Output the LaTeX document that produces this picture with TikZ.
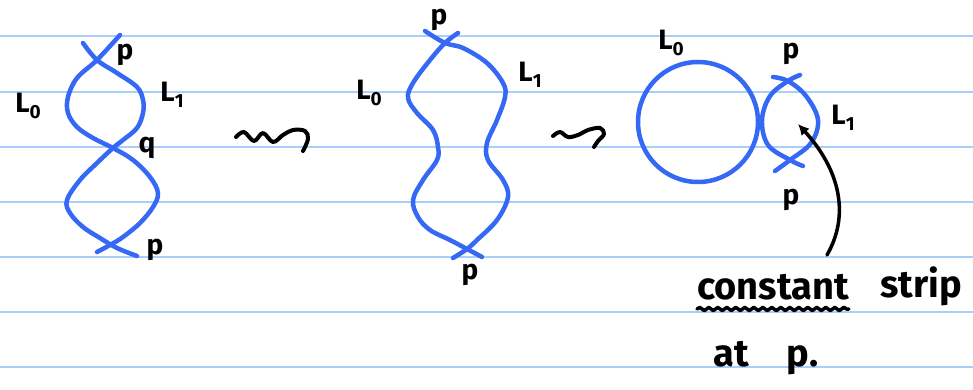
\documentclass[tikz,border=0pt]{standalone}
\usepackage{fontspec}
\setmainfont{Fira Sans}
\usetikzlibrary{arrows.meta,decorations.pathmorphing}
\definecolor{rulecol}{RGB}{168,206,250}
\definecolor{ink}{RGB}{52,104,245}
\newcommand\Lab[1]{L\raisebox{-0.22em}{\fontsize{19}{19}\selectfont #1}}
\tikzset{
  rulings/.style={rulecol, line width=2pt},
  strand/.style={ink, line width=4.5pt, line cap=round, line join=round},
  pen/.style={black, line width=4pt, line cap=round, line join=round},
  lbl/.style={font=\fontsize{28}{30}\selectfont\bfseries, inner sep=0pt},
  note/.style={font=\fontsize{38}{40}\selectfont\bfseries, inner sep=0pt, anchor=base west},
}
\begin{document}
\begin{tikzpicture}[x=1pt,y=-1pt]
\useasboundingbox[fill=white] (0,0) rectangle (973,390);
% ruled paper
\foreach \y in {36,92,147,202,257,312,367} \draw[rulings] (0,\y) -- (973,\y);

% --- left: two strands crossing at p, q, p
\draw[strand] plot[smooth, tension=0.6] coordinates {(83,43) (97,60) (117,73) (137,87) (143,100) (143,113) (137,128) (123,140) (113,148) (97,163) (80,180) (67,200) (70,213) (83,227) (100,238) (117,248) (137,256)};
\draw[strand] plot[smooth, tension=0.6] coordinates {(120,35) (97,60) (77,78) (68,97) (68,113) (77,127) (93,138) (113,148) (133,160) (150,177) (158,193) (153,207) (140,223) (123,237) (110,245) (97,252)};
\node[lbl] (p1a) at (125,55) {p};
\node[lbl] (L0a) at (28,106) {\Lab{0}};
\node[lbl] (L1a) at (172,95) {\Lab{1}};
\node[lbl] (qa) at (147,148) {q};
\node[lbl] (p1b) at (155,250) {p};
% squiggle arrow
\draw[pen] plot[smooth, tension=0.6] coordinates {(236,137) (244,132) (254,141) (263,133) (273,142) (283,135) (293,130) (305,131) (308,139) (303,151)};

% --- middle: the isotoped pair, meeting only at p
\draw[strand] plot[smooth, tension=0.6] coordinates {(425,31) (445,43) (463,48) (487,63) (503,83) (505,97) (497,120) (487,143) (488,160) (503,180) (508,197) (497,220) (477,240) (467,249) (453,258)};
\draw[strand] plot[smooth, tension=0.6] coordinates {(458,33) (445,43) (430,60) (413,83) (408,98) (417,113) (433,130) (438,147) (437,160) (423,180) (413,200) (418,217) (430,230) (450,240) (467,249) (482,257)};
\node[lbl] (p2a) at (439,20) {p};
\node[lbl] (L0b) at (369,93) {\Lab{0}};
\node[lbl] (L1b) at (530,75) {\Lab{1}};
\node[lbl] (p2b) at (470,275) {p};
\draw[pen] plot[smooth, tension=0.6] coordinates {(553,136) (560,132) (568,137) (578,135) (588,130) (600,128) (604,134) (598,141) (594,147)};

% --- right: disjoint L0 and a small L1 with the strip at p
\draw[strand] (698,122) circle (60);
\draw[strand] plot[smooth, tension=0.6] coordinates {(800,75) (788,81) (770,96) (762,120) (768,145) (790,160) (803,166)};
\draw[strand] plot[smooth, tension=0.6] coordinates {(773,77) (788,81) (806,96) (818,120) (811,143) (790,160) (775,171)};
\node[lbl] (L0c) at (671,43) {\Lab{0}};
\node[lbl] (p3a) at (791,54) {p};
\node[lbl] (L1c) at (843,118) {\Lab{1}};
\node[lbl] (p3b) at (791,200) {p};

\node[note] (const) at (697,299) {constant};
\node[note] (strip) at (880,297) {strip};
\node[note] (atp) at (713,366) {at\hspace{38pt}p.};
\draw[pen, line width=3.5pt, decorate, decoration={snake, amplitude=1.6pt, segment length=9pt}]
  ([yshift=-10pt]const.base west) -- ([yshift=-10pt]const.base east);

\coordinate (tail) at (827,255);
\coordinate (tip) at (798,124);
\draw[pen, line width=3.5pt, -{Latex[length=11pt,width=11pt]}] (tail) .. controls (850,215) and (840,170) .. (tip);
\end{tikzpicture}
\end{document}
